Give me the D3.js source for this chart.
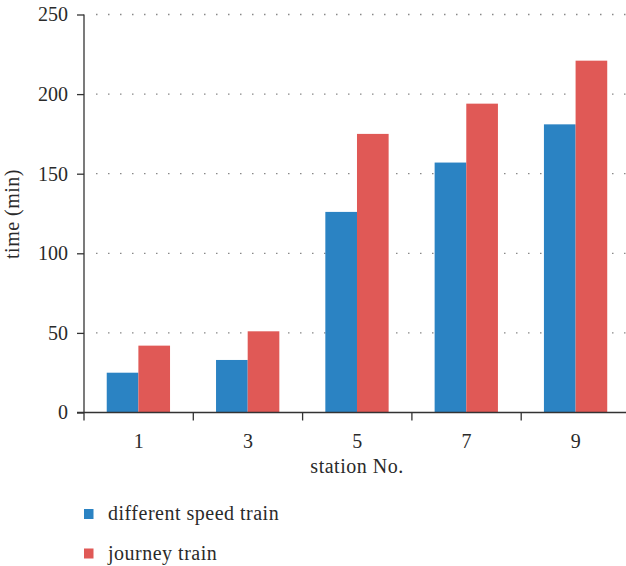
<!DOCTYPE html>
<html><head><meta charset="utf-8">
<script src="https://cdn.jsdelivr.net/npm/d3@7"></script>
<style>body{margin:0;background:#fff}svg{display:block}text{font-family:"Times New Roman",Times,"Liberation Serif","DejaVu Serif","Noto Serif",serif;fill:#2a2a2a}</style>
</head><body><svg id="c" width="626" height="566"></svg>
<script>
const categories = ["1","3","5","7","9"];
const seriesNames = ["different speed train","journey train"];
const differentSpeed = [25,33,126,157,181];
const journey = [42,51,175,194,221];
const yTicks = [0,50,100,150,200,250];
const colors = ["#2b83c3","#e05956"];
const FONT = '"Times New Roman",Times,"Liberation Serif","DejaVu Serif","Noto Serif",serif';

const svg = d3.select("#c");
const L=84, R=630.5, T=14.5, B=412.5;
const x0 = d3.scaleBand().domain(categories).range([L,R]).padding(0);
const bw = x0.bandwidth();
const x1 = d3.scaleBand().domain(seriesNames).range([bw*0.208, bw*0.208+63.3]).padding(0);
const y = d3.scaleLinear().domain([0,250]).range([B,T]);

svg.append("g").selectAll("line").data(yTicks.filter(d=>d>0)).join("line")
  .attr("x1",L+12).attr("x2",626).attr("y1",d=>y(d)).attr("y2",d=>y(d))
  .attr("stroke","#888").attr("stroke-width",1.3).attr("stroke-dasharray","1.5,10.5");

const data = categories.map((c,i)=>({c, v:[differentSpeed[i], journey[i]]}));
svg.append("g").selectAll("g").data(data).join("g")
  .attr("transform",d=>`translate(${x0(d.c)},0)`)
  .selectAll("rect").data(d=>d.v.map((v,j)=>({v,s:seriesNames[j],j}))).join("rect")
  .attr("x",d=>x1(d.s)).attr("width",x1.bandwidth())
  .attr("y",d=>y(d.v)).attr("height",d=>B-y(d.v)).attr("fill",d=>colors[d.j]);

const ya = svg.append("g").attr("transform",`translate(${L},0)`)
  .call(d3.axisLeft(y).tickValues(yTicks).tickSize(7).tickPadding(9));
ya.select(".domain").attr("d",`M0,${T}V${B}`);
const xa = svg.append("g").attr("transform",`translate(0,${B})`)
  .call(d3.axisBottom(x0).tickSize(0).tickPadding(0));
xa.select(".domain").attr("d",`M${L-7},0H626`);
xa.selectAll(".tick text").attr("y",35).attr("dy","0");
xa.selectAll(".tick line").remove();
svg.append("g").selectAll("line").data(categories).join("line")
  .attr("x1",d=>x0(d)).attr("x2",d=>x0(d)).attr("y1",B).attr("y2",B+8)
  .attr("stroke","#333").attr("stroke-width",1.3);
[ya,xa].forEach(a=>{a.attr("font-family",null).attr("font-size",null);
  a.selectAll(".domain").attr("stroke","#333").attr("stroke-width",1.3);
  a.selectAll(".tick line").attr("stroke","#333").attr("stroke-width",1.3);
  a.selectAll("text").style("font-size","20px").attr("fill","#2a2a2a").style("font-family",FONT);});

svg.append("text").attr("x",357).attr("y",473).attr("text-anchor","middle").style("font-size","20px").style("letter-spacing","0.5px").text("station No.");
svg.append("text").attr("transform","translate(19,214) rotate(-90)").attr("text-anchor","middle").style("font-size","20px").style("letter-spacing","0.5px").text("time (min)");

const lg = svg.append("g").selectAll("g").data(seriesNames).join("g")
  .attr("transform",(d,i)=>`translate(84,${509+i*39.5})`);
lg.append("rect").attr("width",9.5).attr("height",10).attr("fill",(d,i)=>colors[i]);
lg.append("text").attr("x",24).attr("y",11).style("font-size","20px").style("letter-spacing","0.5px").text(d=>d);
</script></body></html>
